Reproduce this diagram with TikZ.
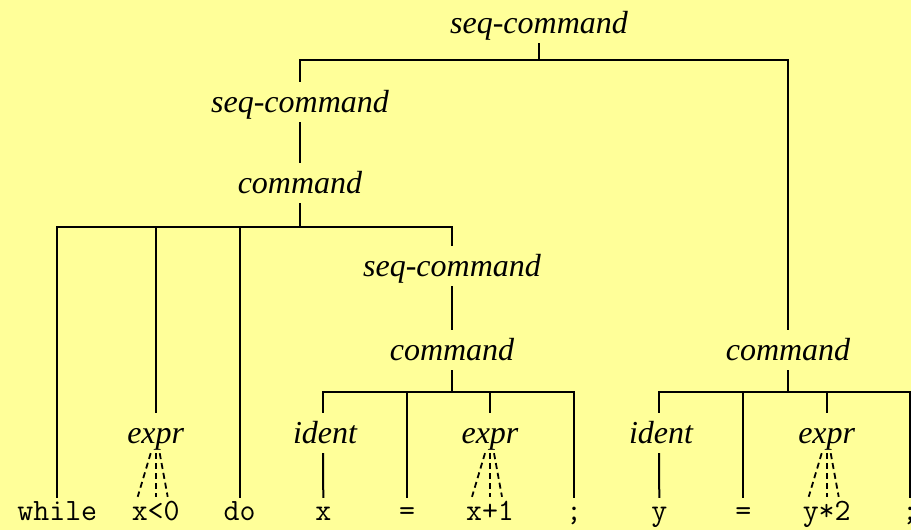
\documentclass[tikz,border=0pt]{standalone}
\usepackage{fontspec}
\setmainfont{Liberation Serif}
\usetikzlibrary{calc}
\definecolor{bgyellow}{HTML}{FFFF99}
\tikzset{
  lab/.style={font=\fontsize{32}{36}\selectfont\itshape, inner sep=0pt, text height=30pt, text depth=10pt, anchor=base},
  term/.style={font=\fontsize{31}{34}\selectfont\ttfamily, inner sep=0pt, text height=22pt, text depth=0pt, anchor=base},
  edge/.style={line width=2pt, black},
  dedge/.style={line width=1.8pt, black, dash pattern=on 6pt off 4pt}
}
\begin{document}
\begin{tikzpicture}[x=1pt,y=-1pt]
\fill[bgyellow] (0,0) rectangle (911,530);
\useasboundingbox (0,0) rectangle (911,530);
\clip (0,0) rectangle (911,530);
% bars
\coordinate (b0) at (0,60);
\coordinate (b1) at (0,227);
\coordinate (b2) at (0,392);
% labels
\node[lab] (s0) at (539,33) {seq-command};
\node[lab] (s1) at (300,112) {seq-command};
\node[lab] (c1) at (300,193) {command};
\node[lab] (s2) at (452,276) {seq-command};
\node[lab] (c2) at (452,360) {command};
\node[lab] (c3) at (788,360) {command};
\node[lab] (e1) at (155.7,443) {expr};
\node[lab] (i1) at (325,443) {ident};
\node[lab] (e2) at (490,443) {expr};
\node[lab] (i2) at (661,443) {ident};
\node[lab] (e3) at (826.7,443) {expr};
% terminals
\node[term] (t1) at (57.3,520) {while};
\node[term] (t2) at (155.7,520) {x<0};
\node[term] (t3) at (239.5,520) {do};
\node[term] (t4) at (323.3,520) {x};
\node[term] (t5) at (407,520) {=};
\node[term] (t6) at (490,520) {x+1};
\node[term] (t7) at (574,520) {;};
\node[term] (t8) at (659.3,520) {y};
\node[term] (t9) at (743.3,520) {=};
\node[term] (t10) at (826.7,520) {y*2};
\node[term] (t11) at (910,520) {;};
% top level
\draw[edge] (s0.south) -- (s0.south |- b0);
\draw[edge] (s1.north) |- (c3.north |- b0) -- (c3.north);
\draw[edge] (s1.south) -- (c1.north);
% command 1
\draw[edge] (c1.south) -- (c1.south |- b1);
\draw[edge] (t1.north) |- (s2.north |- b1) -- (s2.north);
\draw[edge] (e1.north) -- (e1.north |- b1);
\draw[edge] (t3.north) -- (t3.north |- b1);
\draw[edge] (s2.south) -- (c2.north);
% command 2
\draw[edge] (c2.south) -- (c2.south |- b2);
\draw[edge] ([xshift=-2pt]i1.north) |- (t7.north |- b2) -- (t7.north);
\draw[edge] (t5.north) -- (t5.north |- b2);
\draw[edge] (e2.north) -- (e2.north |- b2);
\draw[edge] ([xshift=-2pt]i1.south) -- (t4.north);
% command 3
\draw[edge] (c3.south) -- (c3.south |- b2);
\draw[edge] ([xshift=-2pt]i2.north) |- (t11.north |- b2) -- (t11.north);
\draw[edge] (t11.north |- b2) -- (911,392);
\draw[edge] (t9.north) -- (t9.north |- b2);
\draw[edge] (e3.north) -- (e3.north |- b2);
\draw[edge] ([xshift=-2pt]i2.south) -- (t8.north);
% expr fans
\foreach \e/\t in {e1/t2,e2/t6,e3/t10}{
  \draw[dedge] ($(\e.south)+(-5,0)$) -- ($(\t.north)+(-18,-1)$);
  \draw[dedge] (\e.south) -- ($(\t.north)+(0,-1)$);
  \draw[dedge] ($(\e.south)+(4,0)$) -- ($(\t.north)+(12,-1)$);
}
\end{tikzpicture}
\end{document}
